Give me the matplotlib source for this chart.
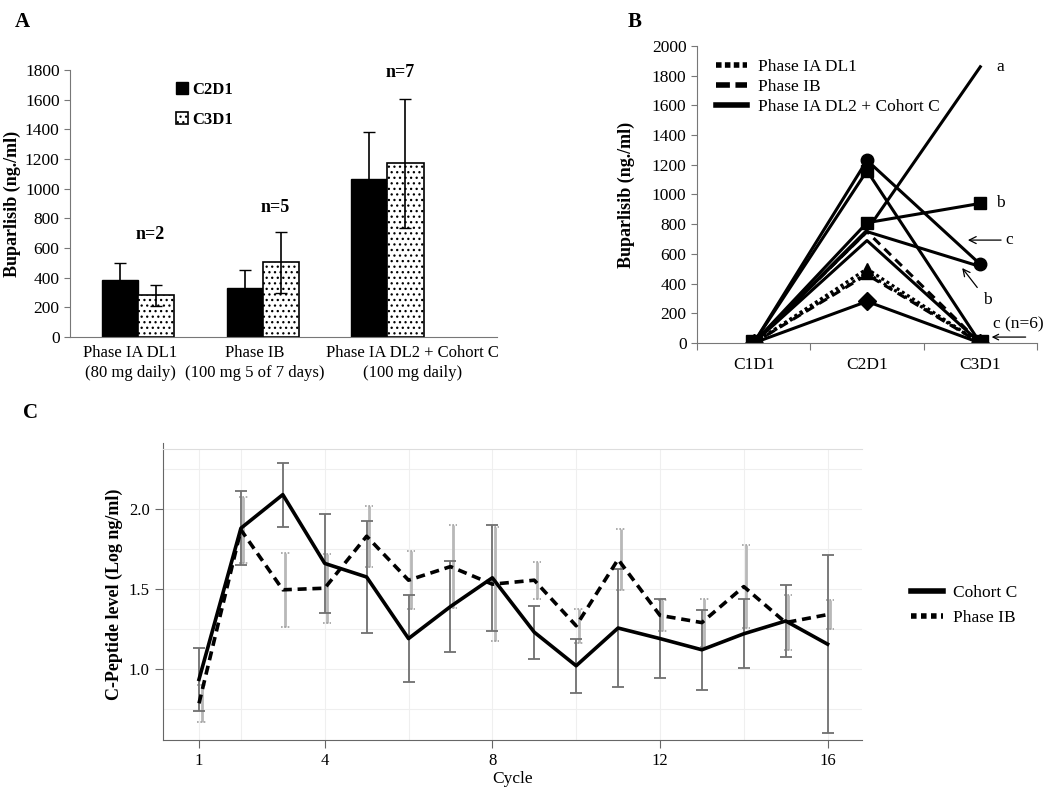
import numpy as np
import matplotlib
matplotlib.use('Agg')
import matplotlib.pyplot as plt
from matplotlib.lines import Line2D

plt.rcParams['font.family'] = ['Liberation Serif', 'DejaVu Serif']
plt.rcParams['hatch.linewidth'] = 0.9

# ---- panel A data
groups_l1 = ['Phase IA DL1', 'Phase IB', 'Phase IA DL2 + Cohort C']
groups_l2 = ['(80 mg daily)', '(100 mg 5 of 7 days)', '(100 mg daily)']
c2d1 = [385, 330, 1065]
c2d1_err = [115, 125, 315]
c3d1 = [280, 505, 1170]
c3d1_err = [68, 205, 432]
n_labels = ['n=2', 'n=5', 'n=7']
n_ypos = [690, 870, 1780]

# ---- panel B data
visits = ['C1D1', 'C2D1', 'C3D1']
b_solid = [[0, 1230, 530], [0, 1160, 0], [0, 810, 940], [0, 760, 1860],
           [0, 750, 515], [0, 690, 0], [0, 280, 0]]
b_solid_mk = ['o', 's', 's', None, None, None, 'D']
b_dashed = [[0, 750, 0], [0, 460, 0]]
b_dotted = [[0, 500, 0], [0, 470, 0]]

# ---- panel C data
cycles = list(range(1, 17))
cohort_c = [0.935, 1.88, 2.09, 1.66, 1.575, 1.19, 1.39, 1.57, 1.23, 1.02, 1.256, 1.19, 1.12, 1.22, 1.30, 1.155]
cohort_c_err = [0.195, 0.23, 0.20, 0.31, 0.35, 0.27, 0.285, 0.33, 0.165, 0.17, 0.37, 0.245, 0.25, 0.215, 0.225, 0.555]
phase_ib = [0.785, 1.87, 1.495, 1.505, 1.83, 1.555, 1.64, 1.53, 1.555, 1.27, 1.685, 1.335, 1.29, 1.515, 1.29, 1.34]
phase_ib_err = [0.115, 0.205, 0.23, 0.215, 0.19, 0.18, 0.26, 0.355, 0.115, 0.105, 0.19, 0.095, 0.15, 0.26, 0.17, 0.09]

fig = plt.figure(figsize=(10.5, 7.9), dpi=100)

# ================= A
axA = fig.add_axes([0.0667, 0.5734, 0.4067, 0.338])
x = np.arange(len(groups_l1))
w = 0.29
axA.bar(x - w/2, c2d1, w, color='black', edgecolor='black', label='C2D1')
axA.bar(x + w/2, c3d1, w, color='white', edgecolor='black', hatch='...', lw=1.2, label='C3D1')
axA.errorbar(x - w/2, c2d1, yerr=c2d1_err, fmt='none', ecolor='black', elinewidth=1.2, capsize=4)
axA.errorbar(x + w/2, c3d1, yerr=c3d1_err, fmt='none', ecolor='black', elinewidth=1.2, capsize=4)
for i in range(len(groups_l1)):
    axA.text(x[i] + 0.1, n_ypos[i], n_labels[i], ha='center', va='center', fontsize=13, fontweight='bold')
axA.set_xlim(-0.546, 2.88)
axA.set_ylim(0, 1800)
axA.set_yticks(range(0, 1801, 200))
axA.set_xticks(x)
axA.set_xticklabels([])
# category labels sit a little off the bar centres, as in the original
lab_x = [-0.064, 0.932, 2.2]
trA = axA.get_xaxis_transform()
for i in range(len(groups_l1)):
    axA.text(lab_x[i], -0.06, groups_l1[i], transform=trA, ha='center', va='center', fontsize=12)
    axA.text(lab_x[i], -0.135, groups_l2[i], transform=trA, ha='center', va='center', fontsize=12)
axA.tick_params(axis='y', labelsize=12.5, direction='out', length=4, color='#777777')
axA.tick_params(axis='x', length=0)
for s in ['top', 'right']:
    axA.spines[s].set_visible(False)
axA.spines['left'].set_color('#777777')
axA.spines['bottom'].set_color('#777777')
axA.set_ylabel('Buparlisib (ng./ml)', fontsize=13, fontweight='bold', labelpad=3)
axA.legend(loc='upper left', bbox_to_anchor=(0.213, 1.013), frameon=False, prop={'weight': 'bold', 'size': 12},
           handlelength=0.7, handleheight=0.7, handletextpad=0.3, labelspacing=0.85)
fig.text(0.014, 0.985, 'A', fontsize=15, fontweight='bold', va='top')

# ================= B
axB = fig.add_axes([0.6638, 0.5658, 0.3238, 0.376])
xb = np.arange(len(visits)) + 0.5
for vals, mk in zip(b_solid, b_solid_mk):
    axB.plot(xb, vals, '-', color='black', lw=2.2, marker=mk, ms=9)
for vals in b_dashed:
    axB.plot(xb, vals, color='black', lw=2.2, dashes=(3, 2))
for vals in b_dotted:
    axB.plot(xb, vals, color='black', lw=2.2, dashes=(1, 1), marker='^', ms=8)
axB.plot(xb[0], 0, 's', color='black', ms=11)
axB.plot(xb[2], 0, 's', color='black', ms=11)
axB.set_xlim(0, 3)
axB.set_ylim(0, 2000)
axB.set_yticks(range(0, 2001, 200))
axB.set_xticks([0, 1, 2, 3])
axB.set_xticks(xb, minor=True)
axB.set_xticklabels([])
axB.set_xticklabels(visits, minor=True, fontsize=12.5)
axB.tick_params(axis='x', which='major', length=5, direction='out', color='#777777')
axB.tick_params(axis='x', which='minor', length=0, pad=10)
axB.tick_params(axis='y', labelsize=12.5, length=4, color='#777777')
for s in ['top', 'right']:
    axB.spines[s].set_visible(False)
axB.spines['left'].set_color('#777777')
axB.spines['bottom'].set_color('#777777')
axB.set_ylabel('Buparlisib (ng./ml)', fontsize=13, fontweight='bold', labelpad=12)
hB = [Line2D([], [], color='black', lw=4, dashes=(1, 0.6)),
      Line2D([], [], color='black', lw=4, dashes=(2.5, 1)),
      Line2D([], [], color='black', lw=4)]
axB.legend(hB, ['Phase IA DL1', 'Phase IB', 'Phase IA DL2 + Cohort C'], loc='upper left',
           bbox_to_anchor=(0.01, 1.008), frameon=False, fontsize=12.5, handlelength=1.8,
           handletextpad=0.6, labelspacing=0.2)
axB.text(2.64, 1860, 'a', fontsize=12.5, va='center')
axB.text(2.64, 940, 'b', fontsize=12.5, va='center')
axB.annotate('c', xy=(2.39, 693), xytext=(2.72, 693), fontsize=12.5, va='center',
             arrowprops=dict(arrowstyle='->', color='black', lw=0.9, shrinkA=1, shrinkB=0))
axB.annotate('b', xy=(2.34, 505), xytext=(2.52, 290), fontsize=12.5, va='center',
             arrowprops=dict(arrowstyle='->', color='black', lw=0.9, shrinkA=3, shrinkB=0))
axB.annotate('', xy=(2.6, 40), xytext=(2.9, 40),
             arrowprops=dict(arrowstyle='->', color='black', lw=0.9, shrinkA=0, shrinkB=0))
axB.text(2.61, 125, 'c (n=6)', fontsize=12.5, va='center')
fig.text(0.598, 0.985, 'B', fontsize=15, fontweight='bold', va='top')

# ================= C
axC = fig.add_axes([0.1552, 0.0633, 0.6657, 0.3683])
xi = [c + 0.06 for c in cycles]
axC.errorbar(xi, phase_ib, yerr=phase_ib_err, fmt='none', ecolor='#b8b8b8', elinewidth=2.0, capsize=0)
ib_hi = [v + e for v, e in zip(phase_ib, phase_ib_err)]
ib_lo = [v - e for v, e in zip(phase_ib, phase_ib_err)]
axC.hlines(ib_hi, [c - 0.1 for c in xi], [c + 0.1 for c in xi], colors='#a0a0a0', lw=1.2, linestyles=(0, (1, 1)))
axC.hlines(ib_lo, [c - 0.1 for c in xi], [c + 0.1 for c in xi], colors='#a0a0a0', lw=1.2, linestyles=(0, (1, 1)))
axC.errorbar(cycles, cohort_c, yerr=cohort_c_err, fmt='none', ecolor='#707070', elinewidth=1.3, capsize=4, capthick=1.3)
axC.plot(cycles, cohort_c, '-', color='black', lw=2.6, label='Cohort C')
axC.plot(cycles, phase_ib, color='black', lw=2.6, dashes=(2.5, 1.6), label='Phase IB')
axC.set_xlim(0.14, 16.82)
axC.set_ylim(0.556, 2.375)
axC.set_xticks([1, 4, 8, 12, 16])
axC.set_xticks([2, 6, 10, 14], minor=True)
axC.set_yticks([1.0, 1.5, 2.0])
axC.set_yticks([0.75, 1.25, 1.75, 2.25], minor=True)
axC.grid(True, which='both', color='#efefef', lw=0.8)
axC.set_axisbelow(True)
axC.tick_params(axis='both', which='major', labelsize=12, length=6, color='#666666')
axC.tick_params(axis='both', which='minor', length=0)
axC.spines['right'].set_visible(False)
axC.spines['top'].set_color('#dddddd')
axC.spines['left'].set_color('#666666')
axC.spines['bottom'].set_color('#666666')
axC.spines['left'].set_bounds(0.556, 2.41)
axC.set_xlabel('Cycle', fontsize=12.5, labelpad=1)
axC.set_ylabel('C-Peptide level (Log ng/ml)', fontsize=13, fontweight='bold', labelpad=4)
hC = [Line2D([], [], color='black', lw=4), Line2D([], [], color='black', lw=4, dashes=(1, 0.8))]
fig.legend(hC, ['Cohort C', 'Phase IB'], loc='center left', bbox_to_anchor=(0.853, 0.234), frameon=False,
           fontsize=12.5, handlelength=1.8, handletextpad=0.6, labelspacing=0.5)
fig.text(0.022, 0.49, 'C', fontsize=15, fontweight='bold', va='top')

fig.savefig('out.png', dpi=100)
